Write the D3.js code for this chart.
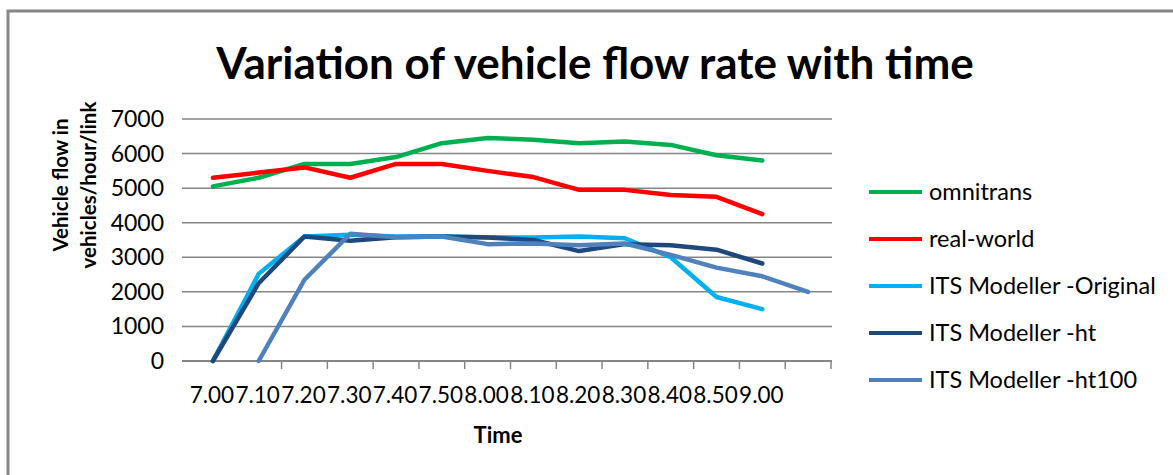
<!DOCTYPE html>
<html>
<head>
<meta charset="utf-8">
<script src="https://cdn.jsdelivr.net/npm/d3@7/dist/d3.min.js"></script>
<style>
  html, body { margin: 0; padding: 0; background: #fff; }
  svg { display: block; }
  text { font-family: Lato, "Open Sans", sans-serif; fill: #000; }
</style>
</head>
<body>
<svg id="chart" width="1173" height="475"></svg>
<script>
// Time slots (the last slot carries no label)
const categories = ["7.00", "7.10", "7.20", "7.30", "7.40", "7.50", "8.00",
                    "8.10", "8.20", "8.30", "8.40", "8.50", "9.00", ""];

// Vehicle flow (vehicles/hour/link) per series
const omnitrans   = [5050, 5300, 5700, 5700, 5900, 6300, 6450, 6400, 6300, 6350, 6250, 5950, 5800, null];
const realWorld   = [5300, 5450, 5600, 5300, 5700, 5700, 5500, 5320, 4950, 4950, 4800, 4750, 4250, null];
const itsOriginal = [0, 2520, 3600, 3650, 3600, 3600, 3580, 3570, 3600, 3550, 3000, 1850, 1500, null];
const itsHt       = [0, 2250, 3600, 3480, 3580, 3600, 3570, 3500, 3180, 3380, 3350, 3220, 2820, null];
const itsHt100    = [null, 0, 2350, 3680, 3580, 3600, 3380, 3400, 3350, 3400, 3070, 2700, 2450, 2000];

const yTicks = [0, 1000, 2000, 3000, 4000, 5000, 6000, 7000];

const seriesNames  = ["omnitrans", "real-world", "ITS Modeller -Original", "ITS Modeller -ht", "ITS Modeller -ht100"];
const seriesValues = [omnitrans, realWorld, itsOriginal, itsHt, itsHt100];
const seriesColors = ["#00B050", "#FF0000", "#00B0F0", "#1F497D", "#4F81BD"];

const svg = d3.select("#chart");
const gridColor = "#868686";

// outer chart frame (open to the right and bottom)
svg.append("path")
  .attr("d", "M8,480 L8,11 L1180,11")
  .attr("fill", "none")
  .attr("stroke", gridColor)
  .attr("stroke-width", 3);

// title
svg.append("text")
  .attr("x", 595).attr("y", 79)
  .attr("text-anchor", "middle")
  .attr("font-weight", "bold")
  .attr("font-size", 44)
  .text("Variation of vehicle flow rate with time");

// scales
const x = d3.scaleBand()
  .domain(d3.range(categories.length))
  .range([190, 831]);
const xc = i => x(i) + x.bandwidth() / 2;
const y = d3.scaleLinear().domain([0, 7000]).range([361, 119]);

// horizontal gridlines
svg.append("g")
  .selectAll("line")
  .data(yTicks.filter(d => d > 0))
  .join("line")
  .attr("x1", 182).attr("x2", 832)
  .attr("y1", d => y(d)).attr("y2", d => y(d))
  .attr("stroke", gridColor)
  .attr("stroke-width", 1.5);

// y tick labels
svg.append("g")
  .selectAll("text")
  .data(yTicks)
  .join("text")
  .attr("x", 164)
  .attr("y", d => y(d) + 8)
  .attr("text-anchor", "end")
  .attr("font-size", 23)
  .text(d => d);

// x axis line and tick marks at category boundaries
svg.append("line")
  .attr("x1", 182).attr("x2", 832)
  .attr("y1", y(0)).attr("y2", y(0))
  .attr("stroke", gridColor)
  .attr("stroke-width", 2);

svg.append("g")
  .selectAll("line")
  .data(d3.range(2, categories.length + 1))
  .join("line")
  .attr("x1", i => x(0) + i * x.step())
  .attr("x2", i => x(0) + i * x.step())
  .attr("y1", y(0)).attr("y2", y(0) + 8)
  .attr("stroke", gridColor)
  .attr("stroke-width", 1.5);

// x tick labels, centred on each slot
svg.append("g")
  .selectAll("text")
  .data(categories.map((c, i) => ({ c, i })).filter(d => d.c !== ""))
  .join("text")
  .attr("x", d => xc(d.i) - 1)
  .attr("y", 403)
  .attr("text-anchor", "middle")
  .attr("font-size", 22.5)
  .text(d => d.c);

// axis titles
svg.append("text")
  .attr("x", 498).attr("y", 443)
  .attr("text-anchor", "middle")
  .attr("font-weight", "bold")
  .attr("font-size", 22)
  .text("Time");

const yTitle = svg.append("g").attr("transform", "translate(0,185) rotate(-90)");
yTitle.append("text")
  .attr("x", 0).attr("y", 68)
  .attr("text-anchor", "middle")
  .attr("font-weight", "bold")
  .attr("font-size", 20.5)
  .text("Vehicle flow in");
yTitle.append("text")
  .attr("x", 0).attr("y", 96)
  .attr("text-anchor", "middle")
  .attr("font-weight", "bold")
  .attr("font-size", 20.5)
  .text("vehicles/hour/link");

// series lines
const line = d3.line()
  .defined(d => d.v !== null)
  .x(d => xc(d.i))
  .y(d => y(d.v));

svg.append("g")
  .selectAll("path")
  .data(seriesValues.map((vals, k) => ({ k, pts: vals.map((v, i) => ({ v, i })) })))
  .join("path")
  .attr("d", d => line(d.pts))
  .attr("fill", "none")
  .attr("stroke", d => seriesColors[d.k])
  .attr("stroke-width", 4.5)
  .attr("stroke-linejoin", "round")
  .attr("stroke-linecap", "round");

// legend
const legend = svg.append("g")
  .selectAll("g")
  .data(seriesNames)
  .join("g")
  .attr("transform", (d, k) => `translate(0,${192 + k * 47})`);
legend.append("line")
  .attr("x1", 869).attr("x2", 922)
  .attr("stroke", (d, k) => seriesColors[k])
  .attr("stroke-width", 4);
legend.append("text")
  .attr("x", 929).attr("y", 8)
  .attr("font-size", 23.5)
  .text(d => d);
</script>
</body>
</html>
